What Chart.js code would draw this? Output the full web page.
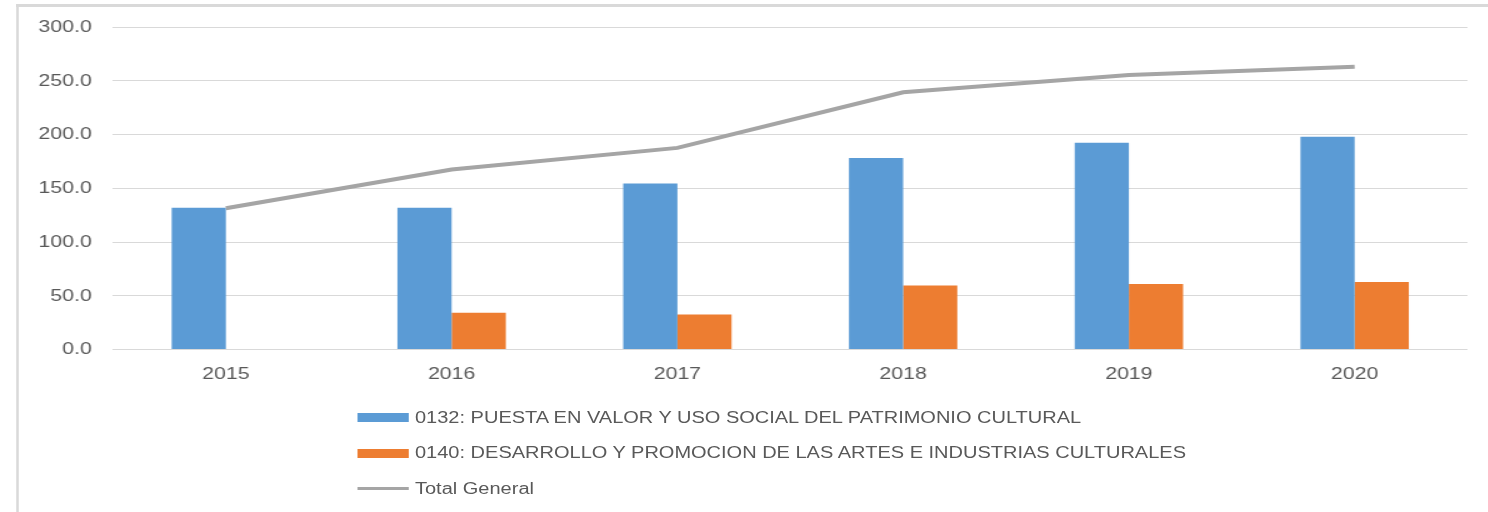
<!DOCTYPE html>
<html>
<head>
<meta charset="utf-8">
<script src="https://cdn.jsdelivr.net/npm/chart.js@4/dist/chart.umd.min.js"></script>
<style>
  html, body { margin: 0; padding: 0; background: #fff; }
  body { width: 1488px; height: 512px; overflow: hidden; position: relative; }
  #stage {
    position: absolute; left: 0; top: 0; width: 1190px; height: 512px;
    transform: scaleX(1.25); transform-origin: 0 0;
  }
  #frame {
    position: absolute; left: 13px; top: 4px; right: -10px; bottom: -10px;
    border-left: 2px solid #d9d9d9; border-top: 3px solid #d9d9d9;
  }
  #wrap { position: absolute; left: 0; top: 0; width: 1190px; height: 400px; }
  #legend { position: absolute; left: 286px; top: 400px; font-family: "Liberation Sans", Arial, sans-serif; font-size: 16px; color: #595959; }
  .item { height: 35.5px; display: flex; align-items: center; white-space: nowrap; }
  .sw { width: 41px; margin-right: 5px; flex: none; }
</style>
</head>
<body>
<div id="stage">
  <div id="frame"></div>
  <div id="wrap"><canvas id="c"></canvas></div>
  <div id="legend"></div>
</div>
<script>
const years = ['2015', '2016', '2017', '2018', '2019', '2020'];
const puestaEnValor = [131.9, 131.9, 154.5, 178.4, 192.4, 198.0];
const desarrolloArtes = [null, 34.2, 32.6, 59.6, 61.1, 63.0];
const totalGeneral = [131.5, 167.5, 187.7, 239.5, 255.5, 263.1];
const seriesLabels = [
  '0132: PUESTA EN VALOR Y USO SOCIAL DEL PATRIMONIO CULTURAL',
  '0140: DESARROLLO Y PROMOCION DE LAS ARTES E INDUSTRIAS CULTURALES',
  'Total General'
];
const colors = ['#5b9bd5', '#ed7d31', '#a5a5a5'];

const font = { family: '"Liberation Sans", Arial, sans-serif', size: 17 };

new Chart(document.getElementById('c'), {
  data: {
    labels: years,
    datasets: [
      { type: 'line', label: seriesLabels[2], data: totalGeneral, borderColor: colors[2], backgroundColor: colors[2],
        borderWidth: 4, pointRadius: 0, tension: 0, order: 0 },
      { type: 'bar', label: seriesLabels[0], data: puestaEnValor, backgroundColor: colors[0],
        categoryPercentage: 0.48, barPercentage: 1.0, order: 1 },
      { type: 'bar', label: seriesLabels[1], data: desarrolloArtes, backgroundColor: colors[1],
        categoryPercentage: 0.48, barPercentage: 1.0, order: 1 }
    ]
  },
  options: {
    responsive: true,
    maintainAspectRatio: false,
    animation: false,
    layout: { padding: { left: 0, right: 16, top: 18, bottom: 0 } },
    plugins: { legend: { display: false }, tooltip: { enabled: false } },
    scales: {
      x: {
        grid: { display: false, drawTicks: false },
        border: { display: false },
        ticks: { color: '#595959', font: font, padding: 15, maxRotation: 0 }
      },
      y: {
        min: 0, max: 300,
        afterFit: (s) => { s.width = 90.4; },
        grid: { color: '#d9d9d9', lineWidth: 1, drawTicks: false },
        border: { display: false },
        ticks: { stepSize: 50, color: '#595959', font: font, padding: 17,
                 callback: (v) => Number(v).toFixed(1) }
      }
    }
  }
});

const legend = document.getElementById('legend');
[0, 1, 2].forEach((i) => {
  const row = document.createElement('div');
  row.className = 'item';
  const sw = document.createElement('span');
  sw.className = 'sw';
  sw.style.background = colors[i];
  sw.style.height = i === 2 ? '3px' : '9px';
  row.appendChild(sw);
  const t = document.createElement('span');
  t.textContent = seriesLabels[i];
  row.appendChild(t);
  legend.appendChild(row);
});
</script>
</body>
</html>
